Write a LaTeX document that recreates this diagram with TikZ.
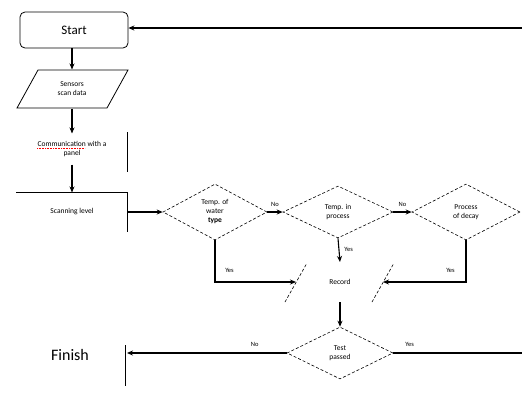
\documentclass[tikz,border=0pt]{standalone}
\usepackage{fontspec}
\setmainfont{Carlito}
\usetikzlibrary{arrows.meta,shapes.geometric}
\begin{document}
\begin{tikzpicture}[x=1pt,y=-1pt,line width=1.1pt,
  >={Stealth[length=6pt,width=5pt]},
  lbl/.style={font=\fontsize{6.5}{7}\selectfont,inner sep=0pt},
  dia/.style={draw,densely dashed,line width=0.6pt,diamond,inner sep=0pt,
    font=\fontsize{7.5}{9}\selectfont,align=center},
  ghost/.style={inner sep=0pt,align=center,font=\fontsize{7.5}{9}\selectfont},
  edge/.style={line width=0.6pt,densely dashed}]
\useasboundingbox (0,0) rectangle (522,392);
\clip (0,0) rectangle (522,392);
\fill[white] (0,0) rectangle (522,392);
% Start
\node[draw,rounded corners=5pt,line width=0.8pt,minimum width=108pt,minimum height=36pt,
  font=\fontsize{13}{14}\selectfont] (start) at (74,30) {Start};
% Sensors parallelogram
\node[ghost,minimum width=90pt,minimum height=38pt] (sens) at (72,89) {Sensors\\scan data};
\draw[line width=0.8pt] (38,70) -- (128,70) -- (107,108) -- (17,108) -- cycle;
% Communication
\node[ghost,minimum height=34pt] (comm) at (72,149) {Communication with a\\panel};
\draw[red,densely dotted,line width=0.6pt] (comm.west |- 0,148) -- ++(48,0);
\draw[line width=0.9pt] (127,132) -- (127,172);
% Scanning level
\node[ghost,minimum width=110pt,minimum height=38pt] (scan) at (72,212) {Scanning level};
\draw[line width=0.9pt] (scan.north west) -- (scan.north east) -- (scan.south east);
% Diamonds
\node[dia,minimum width=104pt,minimum height=56pt] (d1) at (215,212) {Temp. of\\water\\\textbf{type}};
\node[dia,minimum width=110pt,minimum height=52pt] (d2) at (338,212) {Temp. in\\process};
\node[dia,minimum width=108pt,minimum height=56pt] (d3) at (466,212) {Process\\of decay};
% Record
\node[ghost] (rec) at (340,282) {Record};
\coordinate (recL) at (296,282);
\coordinate (recR) at (383,282);
\coordinate (recT) at (340,262);
\coordinate (recB) at (340,302);
\draw[edge] (285,302) -- (307,263);
\draw[edge] (372,302) -- (394,263);
% Test
\node[dia,minimum width=106pt,minimum height=52pt] (d4) at (340,353) {Test\\passed};
% Finish
\node[inner sep=0pt,font=\fontsize{16}{17}\selectfont] (fin) at (70,355) {Finish};
\coordinate (finR) at (127,353);
\draw[line width=0.9pt] (125,345) -- (125,386);
% right corners for loop back
\coordinate (cr1) at (530,353);
\coordinate (cr2) at (530,28);
% connectors
\draw[->] (sens.north |- start.south) -- (sens.north);
\draw[->] (sens.south) -- ([yshift=-2pt]comm.north);
\draw[->] ([yshift=2pt]comm.south) -- (scan.north);
\draw[->] (scan.east) -- (d1.west);
\draw[->] (d1.east) -- node[lbl,above=5pt]{No} (d2.west);
\draw[->] (d2.east) -- node[lbl,above=5pt]{No} (d3.west);
\draw[->] (d1.south) |- node[lbl,pos=0.75,yshift=12pt,xshift=-26pt]{Yes} (recL);
\draw[->] (d3.south) |- node[lbl,pos=0.75,yshift=12pt,xshift=26pt]{Yes} (recR);
\draw[->] (d2.south) -- node[lbl,right=5pt,pos=0.45]{Yes} (recT);
\draw[->] (recB) -- (d4.north);
\draw[->] (d4.west) -- node[lbl,above=6pt,pos=0.2]{No} (finR);
\draw[->] (d4.east) -- node[lbl,above=6pt,pos=0.12]{Yes} (cr1) -- (cr2) -- (start.east |- 0,28);
\end{tikzpicture}
\end{document}
